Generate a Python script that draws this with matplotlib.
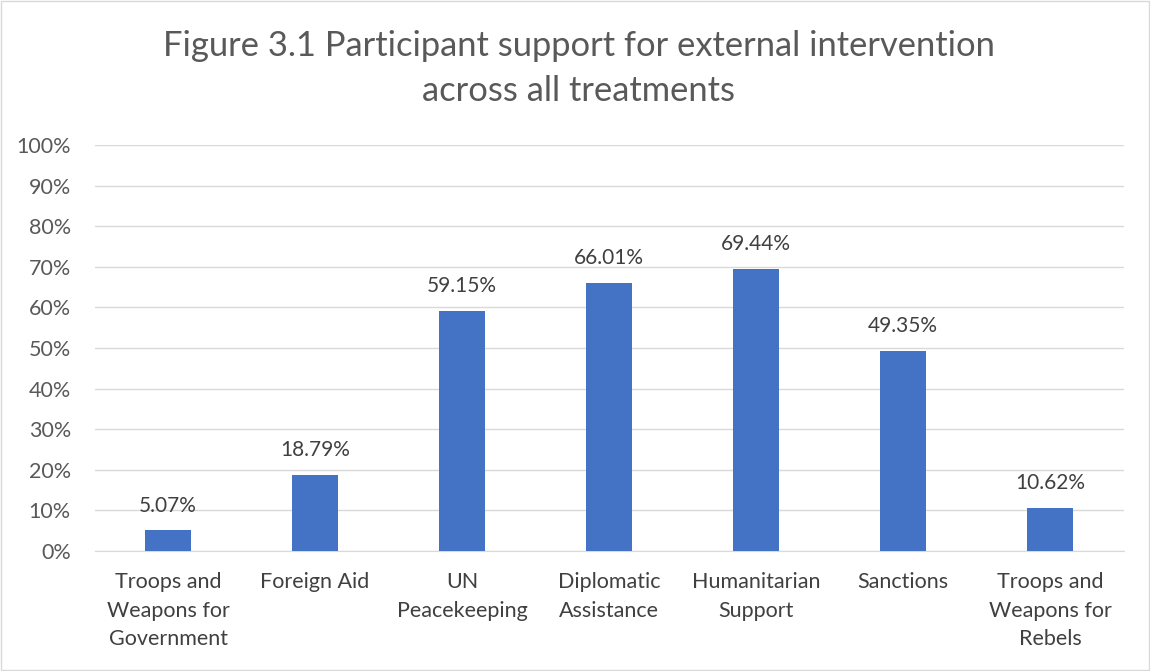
import matplotlib.pyplot as plt
from matplotlib.patches import Rectangle

categories = ["Troops and\nWeapons for\nGovernment", "Foreign Aid", "UN\nPeacekeeping",
              "Diplomatic\nAssistance", "Humanitarian\nSupport", "Sanctions",
              "Troops and\nWeapons for\nRebels"]
values = [5.07, 18.79, 59.15, 66.01, 69.44, 49.35, 10.62]
labels = ["5.07%", "18.79%", "59.15%", "66.01%", "69.44%", "49.35%", "10.62%"]

plt.rcParams['font.family'] = ['Lato', 'DejaVu Sans']
txt = "#595959"

fig = plt.figure(figsize=(11.5, 6.71), dpi=100)
ax = fig.add_axes([0.0822, 0.1788, 0.8948, 0.6052])

x = range(len(categories))
ax.bar(x, values, width=0.31, color="#4472c4", zorder=3)
for i, v in enumerate(values):
    ax.text(i, v + 3.6, labels[i], ha="center", va="bottom", fontsize=15, color="#404040")

ax.set_xlim(-0.5, len(categories) - 0.5)
ax.set_ylim(0, 100)
ax.set_yticks(range(0, 101, 10))
ax.set_yticklabels([f"{t}%" for t in range(0, 101, 10)], fontsize=15.5, color=txt)
ax.set_xticks(list(x))
ax.set_xticklabels(categories, fontsize=15.5, color="#404040", linespacing=1.55, va="top")
ax.tick_params(axis="both", length=0)
ax.tick_params(axis="x", pad=15)
ax.tick_params(axis="y", pad=17)
ax.grid(axis="y", color="#d9d9d9", lw=1, zorder=0)
for s in ["top", "right", "left"]:
    ax.spines[s].set_visible(False)
ax.spines["bottom"].set_color("#d9d9d9")

fig.text(0.503, 0.898, "Figure 3.1 Participant support for external intervention\nacross all treatments",
         ha="center", va="center", fontsize=24.8, color=txt, linespacing=1.5)

fig.patches.append(Rectangle((0.001, 0.001), 0.998, 0.998, transform=fig.transFigure,
                             fill=False, edgecolor="#d9d9d9", lw=1))

fig.savefig("out.png", dpi=100, facecolor="white")
